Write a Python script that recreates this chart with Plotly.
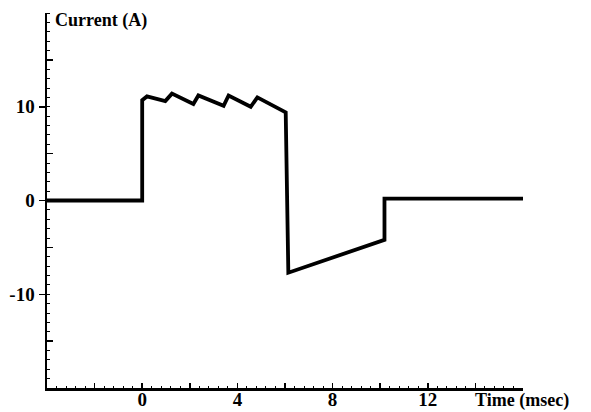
import plotly.graph_objects as go

# Data (time in msec, current in A)
time_ms = [-4.0, 0.0, 0.0, 0.2, 0.97, 1.25, 2.15, 2.36, 3.42, 3.63, 4.56, 4.84, 6.03, 6.14, 10.18, 10.18, 16.0]
current_a = [0.0, 0.0, 10.7, 11.1, 10.6, 11.4, 10.3, 11.2, 10.1, 11.2, 10.0, 11.0, 9.4, -7.7, -4.2, 0.2, 0.2]

x_tickvals = [-4, -2, 0, 2, 4, 6, 8, 10, 12, 14, 16]
x_ticktext = ["", "", "0", "", "4", "", "8", "", "12", "", ""]
y_tickvals = [-10, 0, 10]
y_ticktext = ["-10", "0", "10"]
y_mid_ticks = [-20, -15, -5, 5, 15, 20]

tick_font = dict(family="Liberation Serif", size=19, color="black")
label_font = dict(family="Liberation Serif", size=18, color="black")

fig = go.Figure()
fig.add_trace(go.Scatter(x=time_ms, y=current_a, mode="lines",
                         line=dict(color="black", width=3.8), showlegend=False,
                         hoverinfo="skip"))
fig.add_trace(go.Scatter(x=[None], y=[None], yaxis="y2", showlegend=False))

fig.update_layout(
    width=591, height=412,
    margin=dict(l=47, r=68, t=13, b=24, autoexpand=False),
    paper_bgcolor="white", plot_bgcolor="white",
    xaxis=dict(range=[-4, 16], showgrid=False, zeroline=False,
               showline=True, linecolor="black", linewidth=2.5,
               tickmode="array", tickvals=x_tickvals,
               ticktext=["<b>%s</b>" % t if t else "" for t in x_ticktext],
               ticks="inside", ticklen=5, tickwidth=1.5, tickcolor="black",
               ticklabelstandoff=-7,
               minor=dict(dtick=0.4, tick0=0, ticks="inside", ticklen=2.5,
                          tickwidth=1, tickcolor="black"),
               tickfont=tick_font, fixedrange=True),
    yaxis=dict(range=[-20, 20], showgrid=False, zeroline=False,
               showline=True, linecolor="black", linewidth=2.5,
               tickmode="array", tickvals=y_tickvals,
               ticktext=["<b>%s</b>" % t for t in y_ticktext],
               ticks="outside", ticklen=6, tickwidth=1.5, tickcolor="black",
               minor=dict(dtick=1, tick0=0, ticks="inside", ticklen=2.5,
                          tickwidth=1, tickcolor="black"),
               tickfont=tick_font, fixedrange=True),
    yaxis2=dict(range=[-20, 20], overlaying="y", side="left", anchor="x",
                showgrid=False, zeroline=False, showline=False,
                tickmode="array", tickvals=y_mid_ticks, showticklabels=False,
                ticks="inside", ticklen=6, tickwidth=1.5, tickcolor="black",
                fixedrange=True),
    annotations=[
        dict(text="<b>Current (A)</b>", xref="paper", yref="paper",
             x=0.012, y=0.979, xanchor="left", yanchor="middle", showarrow=False,
             font=label_font),
        dict(text="<b>Time (msec)</b>", xref="paper", yref="paper",
             x=0.895, y=-0.032, xanchor="left", yanchor="middle", showarrow=False,
             font=label_font),
    ],
)

fig.write_html("out.html", config={"displayModeBar": False, "staticPlot": True},
               post_script="document.body.style.margin='0';")
